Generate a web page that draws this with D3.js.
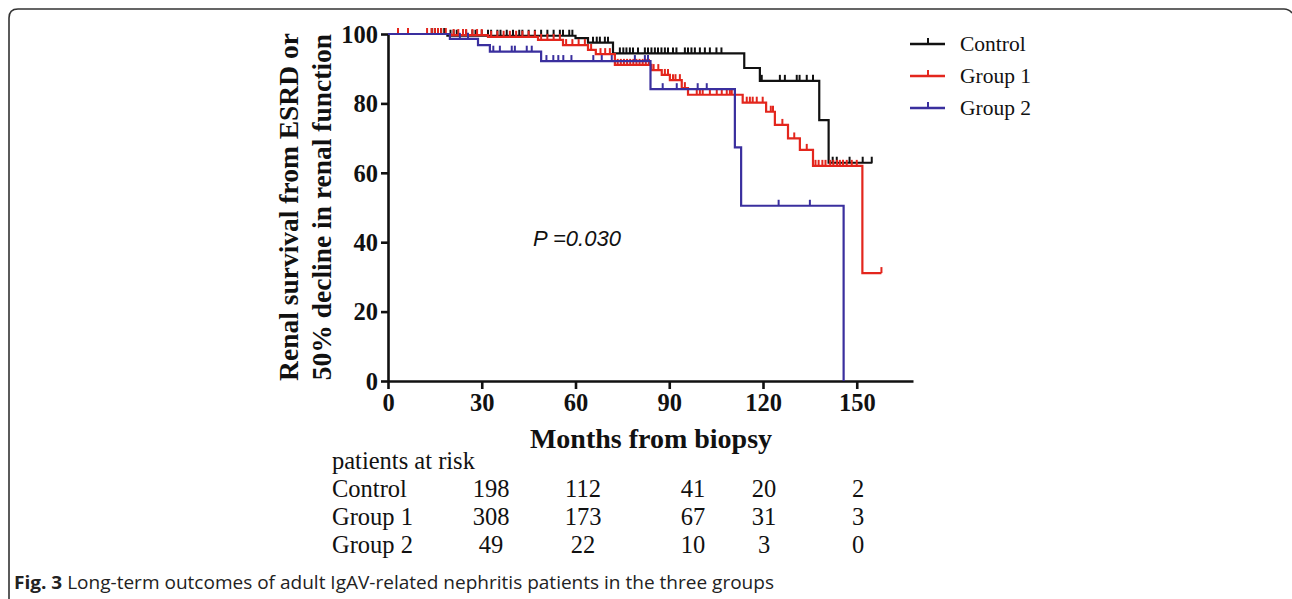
<!DOCTYPE html>
<html><head><meta charset="utf-8">
<script src="https://cdn.jsdelivr.net/npm/d3@7"></script>
<style>body{margin:0;background:#fff}svg{display:block}</style>
</head><body>
<svg id="c" width="1292" height="599"></svg>
<script>
// ---------- data ----------
const groups = ["Control", "Group 1", "Group 2"];
const colors = ["#111111", "#e3261d", "#3a2f9e"];
const xTicks = [0, 30, 60, 90, 120, 150];
const yTicks = [0, 20, 40, 60, 80, 100];
// step drops [month, survival %]
const controlDrops = [[19,99.5],[60,98.8],[64,97.5],[72,94.4],[114,90.2],[119,86.5],[138,75.2],[141,62.9]];
const group1Drops = [[20,99.7],[32,99.2],[48,98.3],[56,96.8],[64,95.4],[66.5,94.2],[72.6,91.1],[84.3,89.6],[87.6,88.2],[90.2,86.7],[94,84.4],[96,82.5],[113.5,80.2],[121,77.6],[123.8,73.8],[128,69.9],[131.8,66.6],[136,62.0],[151.8,31.1]];
const group2Drops = [[19.8,98.6],[28.8,96.8],[32.6,94.9],[49,92.2],[84,84.1],[111,67.3],[113,50.5],[145.8,0]];
const followEnd = [155, 157.9, 145.8];
// censored times (months)
const controlCensor = [14,15,17,18,20,21,22,24,25,27,28,30,32,33,35,36,38,40,42,43,45,47,49,51,53,55,56,58,59,65.6,66.8,67.8,69.4,70.4,74.2,75.3,76.3,77.4,78.4,80,82.2,83.2,84.3,85.4,86.4,87.5,88.6,89.6,91.2,92.3,95,96,97.1,98.2,99.8,101.4,103,105.1,106.7,119.6,125.4,127,130.8,131.7,134,136,142.3,143.6,147.7,151.9,154.8];
const group1Censor = [3.2,6.4,12.5,14,15,16,17,18.5,21,22.5,24,25,27,28.5,30,33,35,37,39,41,43,45,47,49,51,53,55,57,59,61,63,65,68,69.5,71,73.5,74.5,75.5,76.5,77.5,78.5,79.5,80.5,81.5,82.5,83.5,85,86.5,88.6,89.6,91.2,92,93.4,95,98.8,99.8,100.7,103,105.2,106.8,108.4,109.4,110,114.8,115.8,116.7,118,119.9,122.5,123.2,126.2,130,134,136.8,137.8,139,140,141.5,142.5,143.7,144.6,145.6,146.8,148.4,150,157.9];
const group2Censor = [23,25.6,33.7,35.8,39.6,40.6,44.4,46,50.7,52.9,54.5,56.1,58.7,65.7,68.4,71.6,79,82.2,83.2,87.9,92.4,99.1,102,125,135];
const riskLabels = ["Control", "Group 1", "Group 2"];
const riskControl = [198, 112, 41, 20, 2];
const riskGroup1 = [308, 173, 67, 31, 3];
const riskGroup2 = [49, 22, 10, 3, 0];

const drops = [controlDrops, group1Drops, group2Drops];
const censors = [controlCensor, group1Censor, group2Censor];
const risks = [riskControl, riskGroup1, riskGroup2];

// ---------- layout ----------
const svg = d3.select("#c");
const serif = "'Liberation Serif','Times New Roman',serif";
const x = d3.scaleLinear().domain([0, 168]).range([388, 913]);
const y = d3.scaleLinear().domain([0, 100]).range([381, 34]);

// frame (top-left rounded corner)
svg.append("path")
  .attr("d", "M9,599 L9,18 Q9,9 18,9 L1284,9 Q1289,9 1292,13")
  .attr("fill", "none").attr("stroke", "#333").attr("stroke-width", 1.6);

// axes
const gx = svg.append("g").attr("transform", `translate(0,${y(0)})`)
  .call(d3.axisBottom(x).tickValues(xTicks).tickSize(8).tickSizeOuter(0).tickPadding(5));
const gy = svg.append("g").attr("transform", `translate(${x(0)},0)`)
  .call(d3.axisLeft(y).tickValues(yTicks).tickSize(7).tickSizeOuter(0).tickPadding(3));
[gx, gy].forEach(g => {
  g.select(".domain").attr("stroke", "#111").attr("stroke-width", 2.6);
  g.selectAll(".tick line").attr("stroke", "#111").attr("stroke-width", 2.6);
  g.selectAll(".tick text").attr("fill", "#111").style("font-family", serif)
    .style("font-weight", "bold").style("font-size", "24.5px");
});
gy.selectAll(".tick text").attr("dy", "0.34em");

// curves
const line = d3.line().x(d => x(d[0])).y(d => y(d[1])).curve(d3.curveStepAfter);
function levelAt(dr, t) {
  let s = 100;
  for (const [tt, v] of dr) { if (tt <= t) s = v; }
  return s;
}
groups.forEach((g, i) => {
  const dr = drops[i];
  const pts = [[0, 100], ...dr, [followEnd[i], dr[dr.length - 1][1]]];
  svg.append("path").attr("d", line(pts)).attr("fill", "none")
    .attr("stroke", colors[i]).attr("stroke-width", 2.2);
  svg.append("g").selectAll("line").data(censors[i]).join("line")
    .attr("x1", d => x(d)).attr("x2", d => x(d))
    .attr("y1", d => y(levelAt(dr, d))).attr("y2", d => y(levelAt(dr, d)) - 6)
    .attr("stroke", colors[i]).attr("stroke-width", 2);
});

// y label
const ylab = svg.append("text").attr("transform", "translate(298,207) rotate(-90)")
  .attr("text-anchor", "middle").style("font-family", serif).style("font-weight", "bold")
  .style("font-size", "27.5px").attr("fill", "#111");
ylab.append("tspan").attr("x", 0).attr("y", 0).text("Renal survival from ESRD or");
ylab.append("tspan").attr("x", 0).attr("y", 33).text("50% decline in renal function");

// x label
svg.append("text").attr("x", 651).attr("y", 448).attr("text-anchor", "middle")
  .style("font-family", serif).style("font-weight", "bold").style("font-size", "28px")
  .attr("fill", "#111").text("Months from biopsy");

// p value
svg.append("text").attr("x", 533).attr("y", 246)
  .style("font-family", "'Liberation Sans',Arial,sans-serif").style("font-style", "italic")
  .style("font-size", "22px").attr("fill", "#111").text("P =0.030");

// legend
groups.forEach((g, i) => {
  const ly = 44 + i * 32;
  svg.append("line").attr("x1", 910).attr("x2", 945).attr("y1", ly).attr("y2", ly)
    .attr("stroke", colors[i]).attr("stroke-width", 2.4);
  svg.append("line").attr("x1", 928).attr("x2", 928).attr("y1", ly).attr("y2", ly - 6)
    .attr("stroke", colors[i]).attr("stroke-width", 2);
  svg.append("text").attr("x", 960).attr("y", ly + 7).style("font-family", serif)
    .style("font-size", "21.5px").attr("fill", "#111").text(g);
});

// risk table
const colX = [491, 583, 693, 764, 858];
svg.append("text").attr("x", 332).attr("y", 469).style("font-family", serif)
  .style("font-size", "24.5px").attr("fill", "#111").text("patients at risk");
risks.forEach((r, i) => {
  const ry = 497 + i * 28;
  svg.append("text").attr("x", 332).attr("y", ry).style("font-family", serif)
    .style("font-size", "24.5px").attr("fill", "#111").text(riskLabels[i]);
  svg.append("g").selectAll("text").data(r).join("text")
    .attr("x", (d, j) => colX[j]).attr("y", ry).attr("text-anchor", "middle")
    .style("font-family", serif).style("font-size", "24.5px").attr("fill", "#111").text(d => d);
});

// caption
const cap = svg.append("text").attr("x", 14).attr("y", 589)
  .style("font-family", "'Liberation Sans Narrow','Open Sans',sans-serif").style("font-size", "18px")
  .attr("fill", "#222").attr("textLength", 760).attr("lengthAdjust", "spacingAndGlyphs");
cap.append("tspan").style("font-weight", "bold").text("Fig. 3");
cap.append("tspan").text(" Long-term outcomes of adult IgAV-related nephritis patients in the three groups");
</script>
</body></html>
